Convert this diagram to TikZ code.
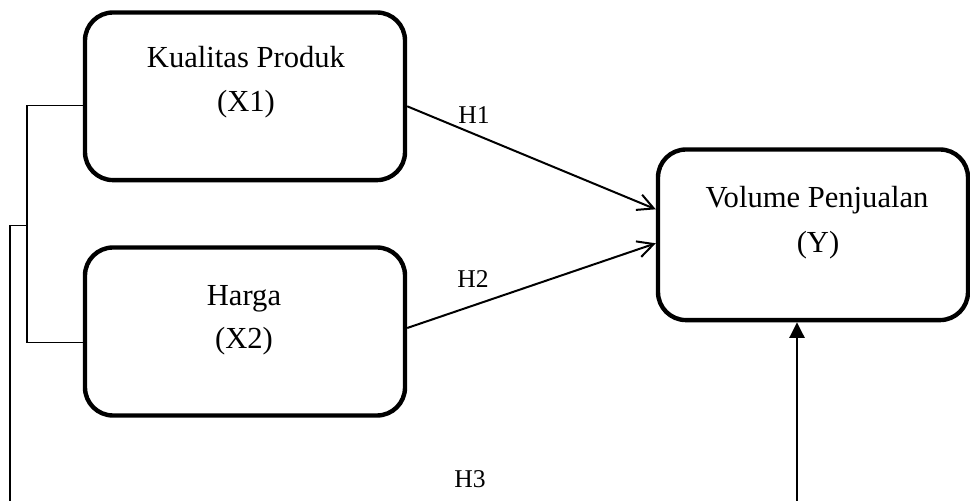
\documentclass[tikz,border=0pt]{standalone}
\usepackage{fontspec}
\setmainfont{Liberation Serif}
\usepackage{tikz}
\usetikzlibrary{positioning,arrows.meta,calc}

\tikzset{
  varbox/.style={draw,line width=2.2pt,rounded corners=14pt,inner sep=0pt},
  lbl/.style={font=\fontsize{15.3}{18}\selectfont,inner sep=0pt,anchor=base},
  hyp/.style={font=\fontsize{12.8}{15}\selectfont,inner sep=0pt,anchor=base},
  hyparrow/.style={line width=1pt,-{Straight Barb[length=8pt,width=8.2pt]}},
  thinline/.style={line width=0.65pt}
}

\begin{document}
\begin{tikzpicture}[x=0.5pt,y=-0.5pt]
  \useasboundingbox (0,0) rectangle (970,501);
  % variables
  \node[varbox,minimum width=160pt,minimum height=83.8pt] (x1) at (245,96.3) {};
  \node[varbox,minimum width=160pt,minimum height=84pt] (x2) at (245,331.5) {};
  \node[varbox,minimum width=155pt,minimum height=85.3pt] (y) at (813,234.8) {};
  \node[lbl] (x1name) at (246,68) {Kualitas Produk};
  \node[lbl] (x1code) at (246,112) {(X1)};
  \node[lbl] (x2name) at (244,306) {Harga};
  \node[lbl] (x2code) at (244,349) {(X2)};
  \node[lbl] (yname) at (817,208) {Volume Penjualan};
  \node[lbl] (ycode) at (818,253) {(Y)};
  % hypotheses
  \draw[hyparrow] ($(x1.east)+(0,10)$) -- ($(y.west)+(0,-25.5)$);
  \draw[hyparrow] ($(x2.east)+(0,-3.5)$) -- ($(y.west)+(0,8.5)$);
  \node[hyp] (h1) at (474,124) {H1};
  \node[hyp] (h2) at (473,288) {H2};
  \node[hyp] (h3) at (470,488) {H3};
  % joint path (X1, X2) -> Y
  \coordinate (brk) at (27,225.5);
  \coordinate (outer) at (10,501);
  \coordinate (foot) at (797,501);
  \draw[thinline] ($(x1.west)+(0,9)$) -| (brk) |- ($(x2.west)+(0,11)$);
  \draw[thinline] (brk) -- (outer |- brk) -- (outer);
  \draw[line width=1.2pt,-{Triangle[length=7.8pt,width=7.5pt]}] (foot) -- (foot |- y.south);
\end{tikzpicture}
\end{document}
